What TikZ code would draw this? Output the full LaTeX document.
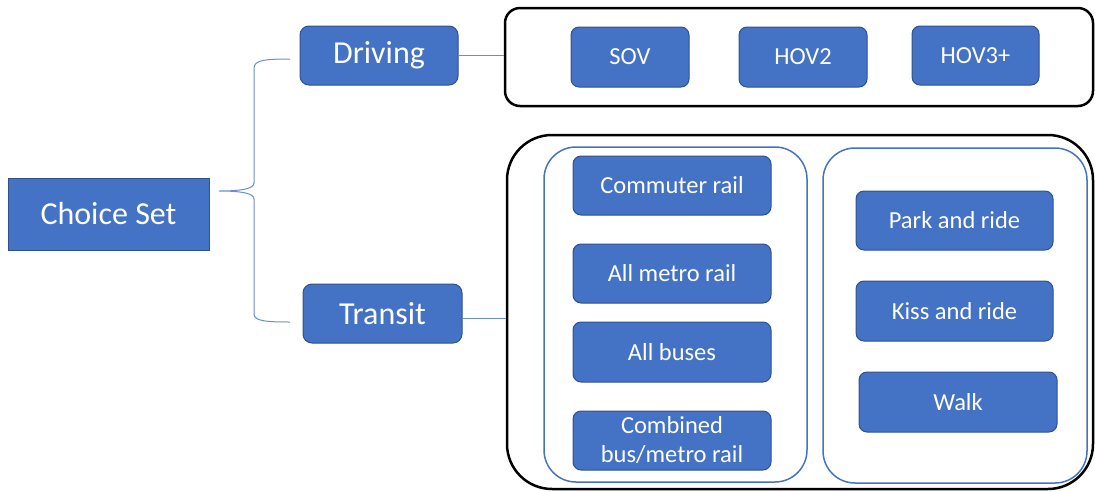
\documentclass[tikz,border=0pt]{standalone}
\usepackage{fontspec}
\setmainfont{Carlito}
\usepackage{tikz}
\definecolor{officeblue}{HTML}{4472C4}
\definecolor{edgeblue}{HTML}{2F528F}
\tikzset{>=latex}
\tikzset{
	modebox/.style={fill=officeblue, draw=edgeblue, line width=1pt, rounded corners=8pt, text=white, inner sep=0pt, align=center, font=\fontsize{24.5}{29}\selectfont},
	groupbox/.style={draw=black, line width=2.5pt, inner sep=0pt},
	nestbox/.style={draw=officeblue, line width=1.5pt, rounded corners=32pt, inner sep=0pt},
	link/.style={draw=officeblue!80, line width=1pt}
}

\begin{document}
\begin{tikzpicture}[x=1pt, y=-1pt]
    \useasboundingbox(0, 0)rectangle(1095, 491);
    \node[fill=officeblue, draw=edgeblue, line width=1pt, text=white, minimum width=201pt, minimum height=72pt, font=\fontsize{32}{38}\selectfont](choice)at(108.5, 214){Choice Set};
    \node[modebox, rounded corners=9pt, minimum width=158pt, minimum height=59pt, font=\fontsize{32}{38}\selectfont](driving)at(379, 55.5){Driving};
    \node[modebox, rounded corners=9pt, minimum width=159pt, minimum height=59pt, font=\fontsize{32}{38}\selectfont](transit)at(382.5, 313.5){Transit};
    % driving modes
    \node[groupbox, rounded corners=15pt, minimum width=588pt, minimum height=98pt](drivegroup)at(799, 57){};
    \node[modebox, minimum width=118pt, minimum height=60pt](sov)at(630, 57){SOV};
    \node[modebox, minimum width=128pt, minimum height=60pt](hov2)at(803, 57){HOV2};
    \node[modebox, minimum width=127pt, minimum height=59pt](hov3)at(975.5, 55.5){HOV3+};
    % transit modes
    \node[groupbox, rounded corners=45pt, minimum width=586pt, minimum height=354pt](transitgroup)at(800, 312){};
    \node[nestbox, minimum width=263pt, minimum height=335pt](linehaul)at(675.5, 314.5){};
    \node[nestbox, minimum width=264pt, minimum height=335pt](access)at(955, 315.5){};
    \node[modebox, minimum width=198pt, minimum height=59pt](commuter)at(672, 185.5){Commuter rail};
    \node[modebox, minimum width=198pt, minimum height=59pt](metro)at(672, 273.5){All metro rail};
    \node[modebox, minimum width=198pt, minimum height=60pt](buses)at(672, 352){All buses};
    \node[modebox, minimum width=198pt, minimum height=59pt](combined)at(672, 440.5){Combined\\bus/metro rail};
    \node[modebox, minimum width=197pt, minimum height=59pt](park)at(954.5, 220.5){Park and ride};
    \node[modebox, minimum width=197pt, minimum height=60pt](kiss)at(954.5, 311){Kiss and ride};
    \node[modebox, minimum width=198pt, minimum height=60pt](walk)at(958, 402){Walk};
    % brace
    \coordinate(bracetop)at(290, 59);
    \coordinate(bracetip)at(219, 191);
    \coordinate(bracebot)at(290, 322);
    \draw[link](bracetop)..controls(266, 59)and(254, 60)..(254, 68)--(254, 183)
        ..controls(254, 189)and(240, 191)..(bracetip)
        ..controls(240, 191)and(254, 193)..(254, 199)--(254, 314)
        ..controls(254, 321)and(266, 322)..(bracebot);
    \draw[link](driving.east)--(driving.east-|drivegroup.west);
    \draw[link]([yshift=-4.5pt]transit.east)--([yshift=-4.5pt]transit.east-|transitgroup.west);
\end{tikzpicture}
\end{document}
